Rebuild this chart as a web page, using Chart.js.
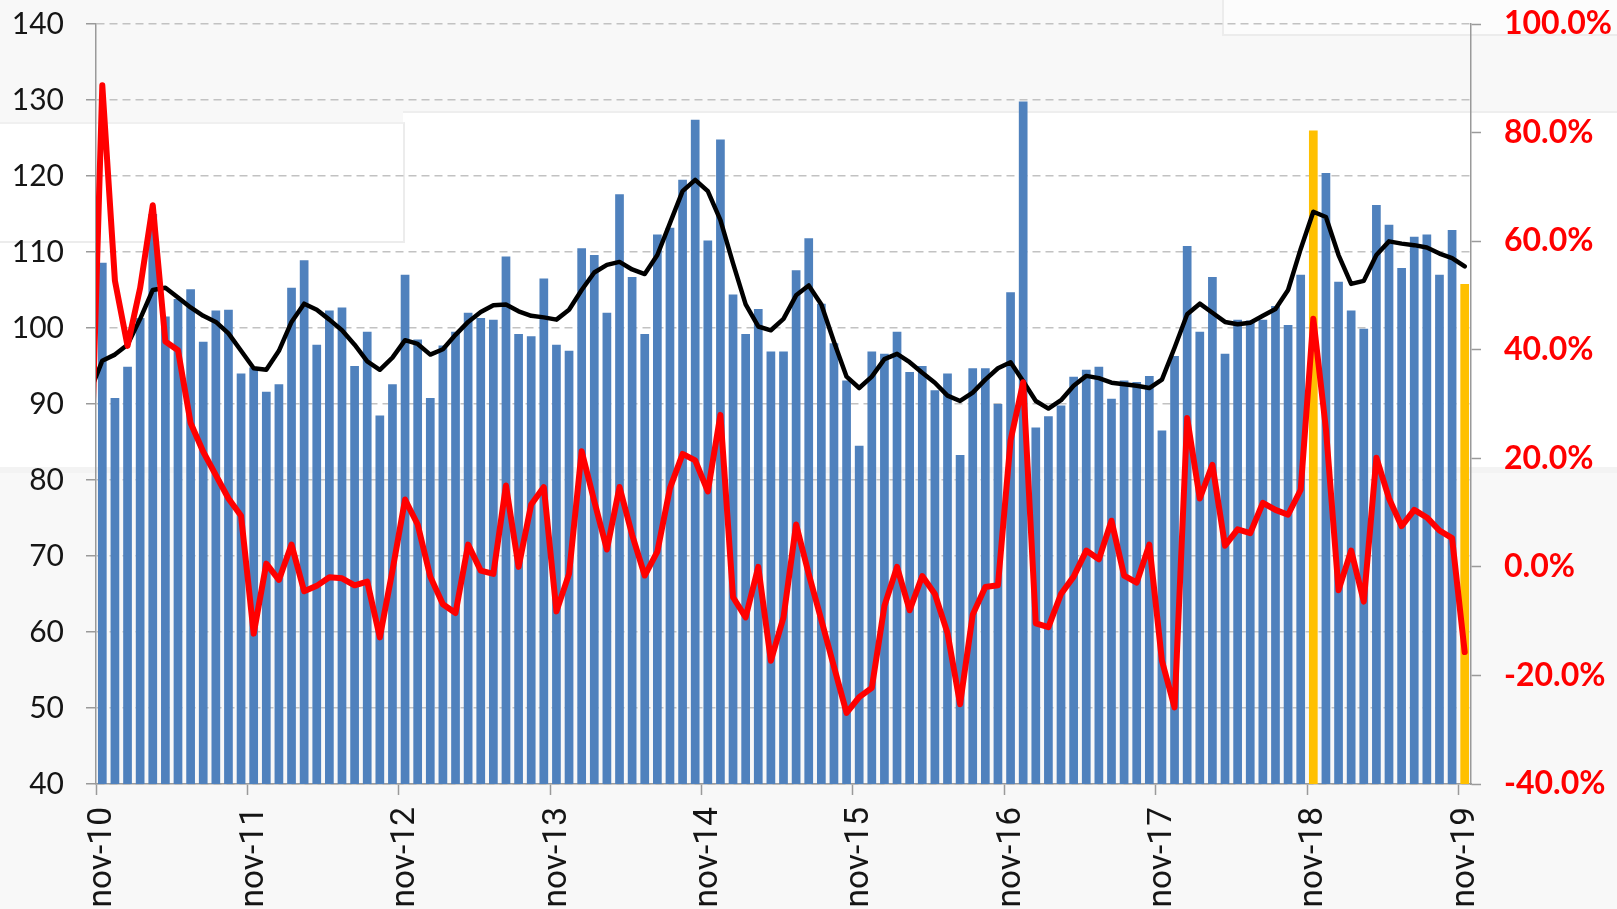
<!DOCTYPE html>
<html>
<head>
<meta charset="utf-8">
<script src="https://cdn.jsdelivr.net/npm/chart.js@4"></script>
<style>
html,body{margin:0;padding:0;background:#f8f8f8;width:1617px;height:909px;overflow:hidden}
#wrap{position:relative;width:1617px;height:909px}
.bg{position:absolute;box-sizing:border-box}
canvas{position:absolute;left:0;top:0}
</style>
</head>
<body>
<div id="wrap">
  <div class="bg" style="left:403px;top:111px;width:1214px;height:358px;background:#fff;border-top:2px solid #eeeeee"></div>
  <div class="bg" style="left:0;top:122px;width:405px;height:347px;background:#fff"></div>
  <div class="bg" style="left:0;top:122px;width:405px;height:121px;border-right:2px solid #ececec;border-bottom:2px solid #ececec;border-top:2px solid #f0f0f0"></div>
  <div class="bg" style="left:0;top:467px;width:1617px;height:6px;background:#f3f3f3"></div>
  <div class="bg" style="left:1222px;top:0;width:395px;height:36px;background:#fcfcfc;border-left:2px solid #ececec;border-bottom:2px solid #ececec"></div>
  <canvas id="c" width="1617" height="909"></canvas>
</div>
<script>
// Categories: months from oct-10 to nov-19 (oct-10 only feeds the line stubs at the left edge)
const monthNames = ['jan','feb','mar','apr','may','jun','jul','aug','sep','oct','nov','dec'];
const months = [];
for (let k = 0; k < 110; k++) {
  months.push(monthNames[(9 + k) % 12] + '-' + (10 + Math.floor((9 + k) / 12)));
}

// Tick labels on the category axis
const tickLabels = ['nov-10','nov-11','nov-12','nov-13','nov-14','nov-15','nov-16','nov-17','nov-18','nov-19'];

// Highlighted months (yellow bars)
const highlighted = ['nov-18','nov-19'];

// Bar series: nov-10 ... nov-19 (left axis)
const volume = [
  108.6, 90.8, 94.9, 101.3, 115.0, 101.5, 103.8, 105.1, 98.2, 102.3, 102.4, 94.0,
  94.8, 91.6, 92.6, 105.3, 108.9, 97.8, 102.3, 102.7, 95.0, 99.5, 88.5, 92.6,
  107.0, 98.5, 90.8, 97.7, 99.5, 102.0, 101.3, 101.1, 109.4, 99.2, 98.9, 106.5,
  97.8, 97.0, 110.5, 109.6, 102.0, 117.6, 106.7, 99.2, 112.3, 113.2, 119.5, 127.4,
  111.5, 124.8, 104.4, 99.2, 102.5, 96.9, 96.9, 107.6, 111.8, 103.2, 98.0, 93.1,
  84.5, 96.9, 96.6, 99.5, 94.2, 95.0, 91.8, 94.0, 83.3, 94.7, 94.7, 90.0,
  104.7, 129.8, 86.9, 88.4, 89.8, 93.6, 94.5, 94.9, 90.7, 93.1, 92.9, 93.7,
  86.5, 96.3, 110.8, 99.5, 106.7, 96.6, 101.1, 101.0, 101.1, 102.9, 100.4, 107.0,
  126.0, 120.4, 106.1, 102.3, 99.9, 116.2, 113.6, 107.9, 112.0, 112.3, 107.0, 112.9,
  105.8
];

// Black line: oct-10 ... nov-19 (left axis)
const movingAvg = [
  91.5,
  95.7, 96.5, 97.8, 101.2, 105.0, 105.3, 104.0, 102.7, 101.6, 100.8, 99.3, 97.0,
  94.7, 94.5, 97.0, 100.8, 103.2, 102.4, 101.1, 99.7, 97.8, 95.6, 94.5, 96.1,
  98.4, 97.9, 96.5, 97.2, 99.1, 100.8, 102.1, 103.0, 103.1, 102.2, 101.6, 101.4,
  101.1, 102.4, 105.0, 107.3, 108.3, 108.7, 107.7, 107.1, 109.6, 113.8, 118.0, 119.5,
  118.0, 114.2, 108.5, 103.1, 100.2, 99.7, 101.2, 104.3, 105.6, 103.1, 98.2, 93.6,
  92.1, 93.6, 95.9, 96.6, 95.5, 94.1, 92.8, 91.1, 90.4, 91.5, 93.2, 94.7,
  95.5, 93.0, 90.4, 89.4, 90.5, 92.4, 93.7, 93.4, 92.8, 92.6, 92.4, 92.1,
  93.2, 97.4, 101.8, 103.2, 102.0, 100.8, 100.5, 100.7, 101.6, 102.5, 105.0, 110.4,
  115.3, 114.6, 109.6, 105.8, 106.2, 109.6, 111.4, 111.1, 110.9, 110.6, 109.8, 109.2,
  108.1
];

// Red line: oct-10 ... nov-19 (right axis, %)
const yoyChange = [
  10.0,
  88.7, 52.7, 40.7, 51.4, 66.6, 41.5, 39.9, 26.5, 21.2, 16.9, 12.6, 9.4,
  -12.3, 0.6, -2.4, 4.1, -4.5, -3.5, -1.9, -2.1, -3.4, -2.7, -13.0, -0.7,
  12.4, 7.8, -1.8, -6.9, -8.5, 4.1, -0.7, -1.3, 15.0, 0.0, 11.5, 14.7,
  -8.2, -1.3, 21.3, 12.1, 3.2, 14.7, 5.9, -1.6, 2.8, 14.5, 20.8, 19.6,
  13.9, 28.0, -5.6, -9.3, 0.0, -17.3, -9.3, 7.8, -1.3, -9.8, -18.4, -26.9,
  -24.0, -22.3, -7.2, 0.0, -8.0, -1.7, -5.0, -12.2, -25.3, -8.8, -3.7, -3.4,
  23.3, 34.0, -10.4, -11.1, -5.0, -1.8, 3.0, 1.4, 8.5, -1.6, -2.9, 4.1,
  -17.3, -25.9, 27.4, 12.6, 18.8, 3.9, 6.9, 6.2, 11.8, 10.5, 9.6, 14.2,
  45.7, 25.4, -4.3, 3.0, -6.4, 20.1, 12.6, 7.5, 10.5, 9.1, 6.7, 5.3,
  -15.7
];

// position on the category axis: nov-10 = 0
const pos = (label) => months.indexOf(label) - 1;

const barData = volume.map((v, j) => ({ x: pos(months[j + 1]), y: v }));
const avgData = movingAvg.map((v, k) => ({ x: pos(months[k]), y: v }));
const yoyData = yoyChange.map((v, k) => ({ x: pos(months[k]), y: v }));
const barColors = volume.map((v, j) => highlighted.includes(months[j + 1]) ? '#FFC000' : '#4F81BD');

const axisColor = '#9a9a9a';
const noPad = (s) => { s.paddingTop = 0; s.paddingBottom = 0; s.paddingLeft = 0; s.paddingRight = 0; };

new Chart(document.getElementById('c'), {
  type: 'bar',
  data: {
    datasets: [
      { type: 'line', data: yoyData, yAxisID: 'y1', borderColor: '#ff0000', borderWidth: 6,
        pointRadius: 0, tension: 0, borderJoinStyle: 'round', borderCapStyle: 'round', order: 0 },
      { type: 'line', data: avgData, yAxisID: 'y', borderColor: '#000000', borderWidth: 4.5,
        pointRadius: 0, tension: 0, borderJoinStyle: 'round', borderCapStyle: 'round', order: 1 },
      { type: 'bar', data: barData, yAxisID: 'y', backgroundColor: barColors, borderWidth: 0,
        barPercentage: 0.69, categoryPercentage: 1, order: 2 }
    ]
  },
  options: {
    responsive: false,
    animation: false,
    devicePixelRatio: 1,
    layout: { padding: { top: 24, left: 0, right: 0, bottom: 0 } },
    plugins: { legend: { display: false }, tooltip: { enabled: false } },
    scales: {
      x: {
        type: 'linear', position: 'bottom', min: -0.5, max: 108.5, offset: false,
        afterBuildTicks: (s) => { s.ticks = tickLabels.map(l => ({ value: pos(l) - 0.5 })); },
        afterFit: (s) => { s.height = 125; noPad(s); },
        grid: { display: true, drawOnChartArea: false, drawTicks: true, tickLength: 11,
                tickColor: axisColor, tickWidth: 1.5, offset: false },
        border: { display: true, color: axisColor, width: 1.5 },
        ticks: {
          autoSkip: false, maxRotation: 90, minRotation: 90, labelOffset: 7, padding: 12,
          color: '#151515',
          font: { family: "Roboto, sans-serif", size: 33.5 },
          callback: (v, i) => tickLabels[i]
        }
      },
      y: {
        position: 'left', min: 40, max: 140,
        afterFit: (s) => { s.width = 96; noPad(s); },
        ticks: { stepSize: 10, padding: 22, color: '#151515', font: { family: 'Lato', size: 30 } },
        grid: { color: '#c2c2c2', lineWidth: 1.5, tickLength: 10, tickColor: axisColor,
                tickWidth: 1.5, tickBorderDash: [] },
        border: { display: true, color: axisColor, width: 1.5, dash: [8, 5] }
      },
      y1: {
        position: 'right', min: -40, max: 100,
        afterFit: (s) => { s.width = 146; noPad(s); },
        ticks: { stepSize: 20, padding: 23, color: '#ff0000',
                 font: { family: 'Lato', size: 32, weight: 'bold' },
                 callback: (v) => v.toFixed(1) + '%' },
        grid: { drawOnChartArea: false, tickLength: 10, tickColor: axisColor, tickWidth: 1.5 },
        border: { display: true, color: axisColor, width: 1.5 }
      }
    }
  }
});
</script>
</body>
</html>
